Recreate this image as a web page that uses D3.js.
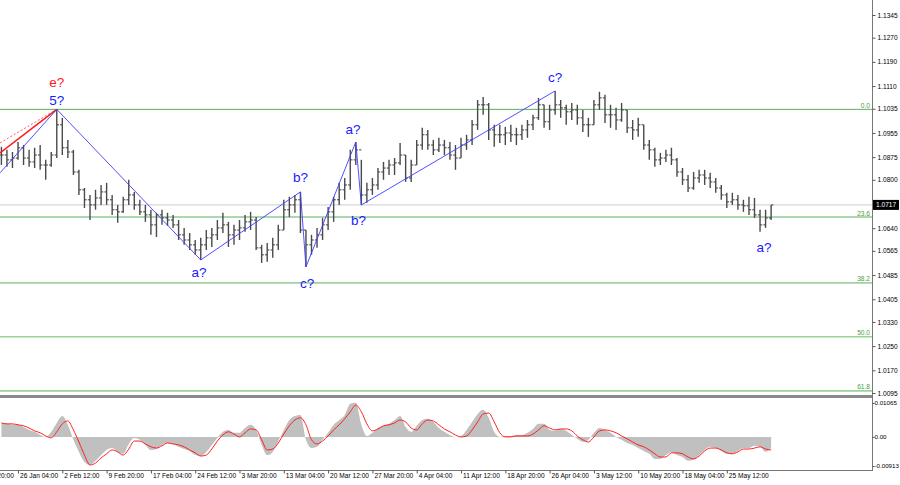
<!DOCTYPE html>
<html><head><meta charset="utf-8">
<script src="https://cdn.jsdelivr.net/npm/d3@7"></script>
<style>
body{margin:0;background:#fff}
svg{display:block}
text{font-family:"Liberation Sans",Arial,sans-serif}
</style>
</head><body>
<svg id="c" width="900" height="485"></svg>
<script>
// ---------- DATA ----------
const highs=[1.0909,1.0899,1.0892,1.0925,1.0915,1.0899,1.0906,1.0915,1.0866,1.0892,
1.1033,1.1005,1.0932,1.0899,1.0833,1.0773,1.0750,1.0767,1.0783,1.0790,
1.0750,1.0717,1.0744,1.0800,1.0760,1.0734,1.0717,1.0701,1.0691,1.0701,
1.0691,1.0684,1.0667,1.0641,1.0624,1.0601,1.0608,1.0634,1.0641,1.0667,
1.0691,1.0661,1.0651,1.0667,1.0684,1.0694,1.0677,1.0585,1.0591,1.0608,
1.0651,1.0734,1.0744,1.0750,1.0760,1.0634,1.0618,1.0641,1.0674,1.0710,
1.0744,1.0790,1.0806,1.0899,1.0925,1.0866,1.0790,1.0806,1.0839,1.0859,
1.0866,1.0872,1.0922,1.0882,1.0866,1.0932,1.0972,1.0965,1.0932,1.0939,
1.0932,1.0925,1.0915,1.0939,1.0949,1.0998,1.1064,1.1074,1.1054,1.0982,
1.0982,1.0975,1.0982,1.0972,1.0982,1.0998,1.1015,1.1071,1.1048,1.1048,
1.1094,1.1064,1.1048,1.1054,1.1048,1.1031,1.1005,1.1064,1.1091,1.1081,
1.1048,1.1038,1.1054,1.1031,1.0998,1.1005,1.0982,1.0932,1.0906,1.0889,
1.0899,1.0906,1.0872,1.0839,1.0816,1.0826,1.0833,1.0833,1.0823,1.0806,
1.0783,1.0757,1.0757,1.0750,1.0734,1.0744,1.0740,1.0701,1.0701,1.0717];
const lows=[1.0849,1.0843,1.0839,1.0866,1.0849,1.0843,1.0839,1.0833,1.0800,1.0843,
1.0872,1.0882,1.0872,1.0816,1.0750,1.0707,1.0667,1.0701,1.0717,1.0717,
1.0684,1.0658,1.0691,1.0717,1.0701,1.0684,1.0661,1.0618,1.0611,1.0651,
1.0648,1.0641,1.0601,1.0585,1.0568,1.0552,1.0535,1.0568,1.0578,1.0601,
1.0624,1.0578,1.0585,1.0601,1.0628,1.0634,1.0568,1.0525,1.0529,1.0542,
1.0568,1.0634,1.0677,1.0691,1.0624,1.0512,1.0552,1.0575,1.0601,1.0634,
1.0661,1.0717,1.0734,1.0767,1.0849,1.0717,1.0724,1.0750,1.0767,1.0800,
1.0816,1.0816,1.0849,1.0793,1.0793,1.0849,1.0899,1.0899,1.0882,1.0892,
1.0882,1.0866,1.0833,1.0872,1.0899,1.0915,1.0965,1.1015,1.0932,1.0909,
1.0922,1.0915,1.0925,1.0915,1.0932,1.0939,1.0965,1.0998,1.0972,1.0965,
1.1015,1.1005,1.0982,1.0998,1.0982,1.0958,1.0942,1.0982,1.1031,1.0988,
1.0972,1.0965,1.0992,1.0955,1.0932,1.0942,1.0899,1.0866,1.0843,1.0849,
1.0859,1.0849,1.0810,1.0783,1.0760,1.0767,1.0790,1.0783,1.0773,1.0757,
1.0734,1.0707,1.0717,1.0701,1.0694,1.0684,1.0674,1.0628,1.0641,1.0667];
const closes=[1.0882,1.0866,1.0872,1.0906,1.0872,1.0859,1.0882,1.0849,1.0849,1.0882,
1.0982,1.0906,1.0892,1.0826,1.0767,1.0734,1.0717,1.0740,1.0760,1.0734,
1.0701,1.0694,1.0734,1.0750,1.0717,1.0694,1.0684,1.0651,1.0684,1.0674,
1.0667,1.0651,1.0618,1.0601,1.0585,1.0568,1.0585,1.0608,1.0618,1.0641,
1.0651,1.0618,1.0634,1.0641,1.0661,1.0667,1.0575,1.0552,1.0568,1.0585,
1.0634,1.0701,1.0717,1.0734,1.0634,1.0585,1.0601,1.0618,1.0651,1.0694,
1.0734,1.0767,1.0783,1.0866,1.0899,1.0750,1.0767,1.0783,1.0826,1.0839,
1.0849,1.0856,1.0882,1.0806,1.0849,1.0915,1.0949,1.0915,1.0899,1.0915,
1.0906,1.0882,1.0872,1.0915,1.0932,1.0982,1.1048,1.1048,1.0965,1.0949,
1.0949,1.0955,1.0949,1.0949,1.0965,1.0982,1.1005,1.1048,1.0992,1.1031,
1.1048,1.1038,1.1025,1.1031,1.1005,1.0982,1.0982,1.1048,1.1071,1.1015,
1.1015,1.0998,1.1031,1.0972,1.0965,1.0982,1.0915,1.0899,1.0866,1.0872,
1.0882,1.0866,1.0826,1.0800,1.0773,1.0806,1.0816,1.0806,1.0793,1.0773,
1.0750,1.0727,1.0734,1.0717,1.0714,1.0701,1.0684,1.0651,1.0674,1.0717];

const macdHist=[0.0044,0.0041,0.0038,0.0038,0.0031,0.0022,0.0016,0.0006,0.0000,0.0016,
0.0044,0.0066,0.0038,-0.0009,-0.0047,-0.0079,-0.0088,-0.0075,-0.0057,-0.0041,
-0.0035,-0.0047,-0.0053,-0.0022,-0.0003,-0.0009,-0.0025,-0.0041,-0.0038,-0.0025,
-0.0019,-0.0022,-0.0031,-0.0038,-0.0044,-0.0057,-0.0060,-0.0047,-0.0025,-0.0003,
0.0016,0.0022,0.0013,0.0013,0.0028,0.0038,0.0022,-0.0025,-0.0057,-0.0047,
-0.0013,0.0022,0.0053,0.0066,0.0069,-0.0009,-0.0035,-0.0031,-0.0009,0.0013,
0.0038,0.0053,0.0069,0.0104,0.0107,0.0038,0.0003,0.0013,0.0028,0.0035,
0.0041,0.0053,0.0066,0.0031,0.0016,0.0035,0.0053,0.0057,0.0047,0.0028,
0.0016,0.0006,0.0000,0.0003,0.0022,0.0047,0.0072,0.0085,0.0060,0.0016,
0.0000,0.0003,0.0003,0.0006,0.0006,0.0013,0.0025,0.0041,0.0041,0.0022,
0.0019,0.0025,0.0019,0.0006,-0.0006,-0.0016,-0.0009,0.0013,0.0028,0.0022,
0.0013,0.0000,-0.0009,-0.0019,-0.0025,-0.0035,-0.0044,-0.0053,-0.0069,-0.0069,
-0.0057,-0.0047,-0.0057,-0.0063,-0.0075,-0.0072,-0.0057,-0.0041,-0.0031,-0.0035,
-0.0044,-0.0053,-0.0053,-0.0044,-0.0035,-0.0035,-0.0028,-0.0031,-0.0047,-0.0035];
const macdSignal=[0.0044,0.0041,0.0041,0.0038,0.0035,0.0028,0.0019,0.0013,0.0003,-0.0003,
0.0016,0.0041,0.0050,0.0022,-0.0016,-0.0057,-0.0088,-0.0082,-0.0066,-0.0053,
-0.0041,-0.0047,-0.0057,-0.0038,-0.0013,-0.0013,-0.0022,-0.0031,-0.0035,-0.0028,
-0.0019,-0.0022,-0.0025,-0.0031,-0.0041,-0.0050,-0.0060,-0.0057,-0.0038,-0.0013,
0.0006,0.0016,0.0009,0.0000,0.0013,0.0025,0.0022,-0.0009,-0.0041,-0.0038,
-0.0019,0.0009,0.0035,0.0053,0.0060,0.0038,-0.0009,-0.0022,-0.0013,0.0003,
0.0022,0.0038,0.0057,0.0079,0.0100,0.0079,0.0041,0.0019,0.0025,0.0035,
0.0038,0.0044,0.0053,0.0047,0.0028,0.0022,0.0041,0.0053,0.0050,0.0038,
0.0025,0.0016,0.0006,0.0000,0.0003,0.0022,0.0047,0.0072,0.0075,0.0047,
0.0013,0.0000,0.0000,0.0003,0.0003,0.0003,0.0009,0.0022,0.0035,0.0028,
0.0022,0.0025,0.0025,0.0019,0.0003,-0.0009,-0.0016,0.0000,0.0019,0.0022,
0.0019,0.0013,0.0003,-0.0006,-0.0016,-0.0025,-0.0031,-0.0041,-0.0053,-0.0063,
-0.0063,-0.0050,-0.0050,-0.0053,-0.0063,-0.0069,-0.0060,-0.0044,-0.0035,-0.0035,
-0.0041,-0.0050,-0.0053,-0.0047,-0.0038,-0.0038,-0.0035,-0.0031,-0.0038,-0.0041];

const priceTicks=[1.1345,1.1270,1.1190,1.1110,1.1035,1.0955,1.0875,1.0800,1.0640,1.0565,1.0485,1.0405,1.0330,1.0250,1.0170,1.0095];
const macdTicks=[0.01065,0,-0.00913];
const macdTickLabels=["0.01065","0.00","-0.00913"];
const timeLabels=["19 Jan 20:00","26 Jan 04:00","2 Feb 12:00","9 Feb 20:00","17 Feb 04:00","24 Feb 12:00","3 Mar 20:00","13 Mar 04:00","20 Mar 12:00","27 Mar 20:00","4 Apr 04:00","11 Apr 12:00","18 Apr 20:00","26 Apr 04:00","3 May 12:00","10 May 20:00","18 May 04:00","25 May 12:00"];
const timeTickBars=[-5,3,11,19,27,35,43,51,59,67,75,83,91,99,107,115,123,131];
const fibNames=["0.0","23.6","38.2","50.0","61.8"];
const fibLevels=[1.1033,1.0677,1.0459,1.0281,1.0102];
const lastPrice=1.0717;
const waveBlue=[[-0.25,1.0823],[10,1.1033],[36,1.0535],[54,1.0760],[55,1.0512],[64,1.0925],[65,1.0717],[100,1.1094]];
const waveRed=[[-0.25,1.0889],[10,1.1033]];
const waveRedDash=[[-0.25,1.0922],[10,1.1033]];
const waveText=["e?","5?","a?","b?","c?","a?","b?","c?","a?"];
const waveTextBar=[10,10,35.7,54,55.2,63.5,64.5,100,137.7];
const waveTextPrice=[1.1033,1.1033,1.0535,1.0760,1.0512,1.0925,1.0717,1.1094,1.0628];
const waveTextColor=["#ff1a1a","#1a1aff","#1a1aff","#1a1aff","#1a1aff","#1a1aff","#1a1aff","#1a1aff","#1a1aff"];
const waveTextDy=[-22,-4,17,-10,21,-8,20,-9,20];

// ---------- LAYOUT ----------
const axisX=872, mainTop=0, mainBot=395, subTop=398, subBot=470;
const svg=d3.select("#c");
const x=d3.scaleLinear().domain([0,139]).range([1.4,1.4+139*5.5375]);
const y=d3.scaleLinear().domain([1.0095,1.1345]).range([393,15]);
const ym=d3.scaleLinear().domain([-0.00913,0.01065]).range([466,403]);

const defs=svg.append("defs");
defs.append("clipPath").attr("id","cm").append("rect").attr("x",0).attr("y",mainTop).attr("width",axisX).attr("height",mainBot-mainTop);
defs.append("clipPath").attr("id","cs").append("rect").attr("x",0).attr("y",subTop).attr("width",axisX).attr("height",subBot-subTop);

const main=svg.append("g").attr("clip-path","url(#cm)");

// fib levels
fibLevels.forEach((v,k)=>{
  main.append("line").attr("x1",0).attr("x2",axisX).attr("y1",y(v)).attr("y2",y(v))
    .attr("stroke",k<3?"#5aae5a":"#9ad49a").attr("stroke-width",k<3?1:1.6);
  main.append("text").attr("x",axisX-2).attr("y",y(v)-1.5).attr("text-anchor","end")
    .attr("font-size","6.6px").attr("fill","#4a9e3a").text(fibNames[k]);
});
// current price line
main.append("line").attr("x1",0).attr("x2",axisX).attr("y1",y(lastPrice)).attr("y2",y(lastPrice))
  .attr("stroke","#cccccc").attr("stroke-width",1);

// OHLC bars
const bars=main.append("g").attr("stroke","#4a4a4a").attr("stroke-width",1.4);
highs.forEach((h,i)=>{
  const xi=x(i), o=i>0?closes[i-1]:closes[0];
  bars.append("line").attr("x1",xi).attr("x2",xi).attr("y1",y(h)).attr("y2",y(lows[i]));
  bars.append("line").attr("x1",xi-2.2).attr("x2",xi).attr("y1",y(o)).attr("y2",y(o)).attr("stroke-width",1.1);
  bars.append("line").attr("x1",xi).attr("x2",xi+2.2).attr("y1",y(closes[i])).attr("y2",y(closes[i])).attr("stroke-width",1.1);
});

// wave lines
const ln=d3.line().x(d=>x(d[0])).y(d=>y(d[1]));
main.append("path").attr("d",ln(waveRedDash)).attr("fill","none").attr("stroke","#ff3030").attr("stroke-width",0.8).attr("stroke-dasharray","2,2");
main.append("path").attr("d",ln(waveRed)).attr("fill","none").attr("stroke","#ff1a1a").attr("stroke-width",1.5);
main.append("path").attr("d",ln(waveBlue)).attr("fill","none").attr("stroke","#3c3cff").attr("stroke-width",0.9);
waveText.forEach((t,k)=>{
  main.append("text").attr("x",x(waveTextBar[k])).attr("y",y(waveTextPrice[k])+waveTextDy[k])
    .attr("text-anchor","middle").attr("font-size","13.5px").attr("fill",waveTextColor[k]).text(t);
});

// ---------- MACD ----------
const sub=svg.append("g").attr("clip-path","url(#cs)");
sub.append("path").datum(macdHist)
  .attr("d",d3.area().x((d,i)=>x(i)).y0(ym(0)).y1(d=>ym(d)).curve(d3.curveMonotoneX))
  .attr("fill","#c0c0c0");
sub.append("path").datum(macdSignal)
  .attr("d",d3.line().x((d,i)=>x(i)).y(d=>ym(d)).curve(d3.curveMonotoneX))
  .attr("fill","none").attr("stroke","#ff2020").attr("stroke-width",1);

// ---------- FRAMES ----------
svg.append("rect").attr("x",0).attr("y",395).attr("width",axisX).attr("height",3).attr("fill","#8a8a8a");
svg.append("line").attr("x1",0).attr("x2",axisX).attr("y1",subBot+0.5).attr("y2",subBot+0.5).attr("stroke","#777");
svg.append("line").attr("x1",axisX+0.5).attr("x2",axisX+0.5).attr("y1",0).attr("y2",subBot+1).attr("stroke","#777");

// price axis
const pa=svg.append("g").attr("transform",`translate(${axisX+0.5},0)`)
  .call(d3.axisRight(y).tickValues(priceTicks).tickSize(3).tickPadding(2).tickFormat(d3.format(".4f")));
pa.select(".domain").remove();
pa.selectAll("text").attr("font-size","6.6px").attr("fill","#000").attr("font-family","Liberation Sans, Arial, sans-serif");
pa.selectAll("line").attr("stroke","#555");
// last price box
svg.append("rect").attr("x",axisX+1).attr("y",y(lastPrice)-5).attr("width",26).attr("height",10).attr("fill","#000");
svg.append("text").attr("x",axisX+4).attr("y",y(lastPrice)+2.5).attr("font-size","6.6px").attr("fill","#fff").text(lastPrice.toFixed(4));

// macd axis
const ma=svg.append("g").attr("transform",`translate(${axisX+0.5},0)`)
  .call(d3.axisRight(ym).tickValues(macdTicks).tickSize(2).tickPadding(0).tickFormat((d,i)=>macdTickLabels[i]));
ma.select(".domain").remove();
ma.selectAll("text").attr("x",2).attr("font-size","6.2px").attr("fill","#000").attr("font-family","Liberation Sans, Arial, sans-serif");
ma.selectAll("line").attr("stroke","#555");

// time axis
const ta=svg.append("g").attr("transform",`translate(0,${subBot+0.5})`)
  .call(d3.axisBottom(x).tickValues(timeTickBars).tickSize(3).tickFormat((d,i)=>timeLabels[i]));
ta.select(".domain").remove();
ta.selectAll("line").attr("stroke","#555");
ta.selectAll("text").attr("text-anchor","start").attr("x",1.5).attr("dy","0.35em").attr("y",5)
  .attr("font-size","6.6px").attr("fill","#000").attr("font-family","Liberation Sans, Arial, sans-serif");
</script>
</body></html>
